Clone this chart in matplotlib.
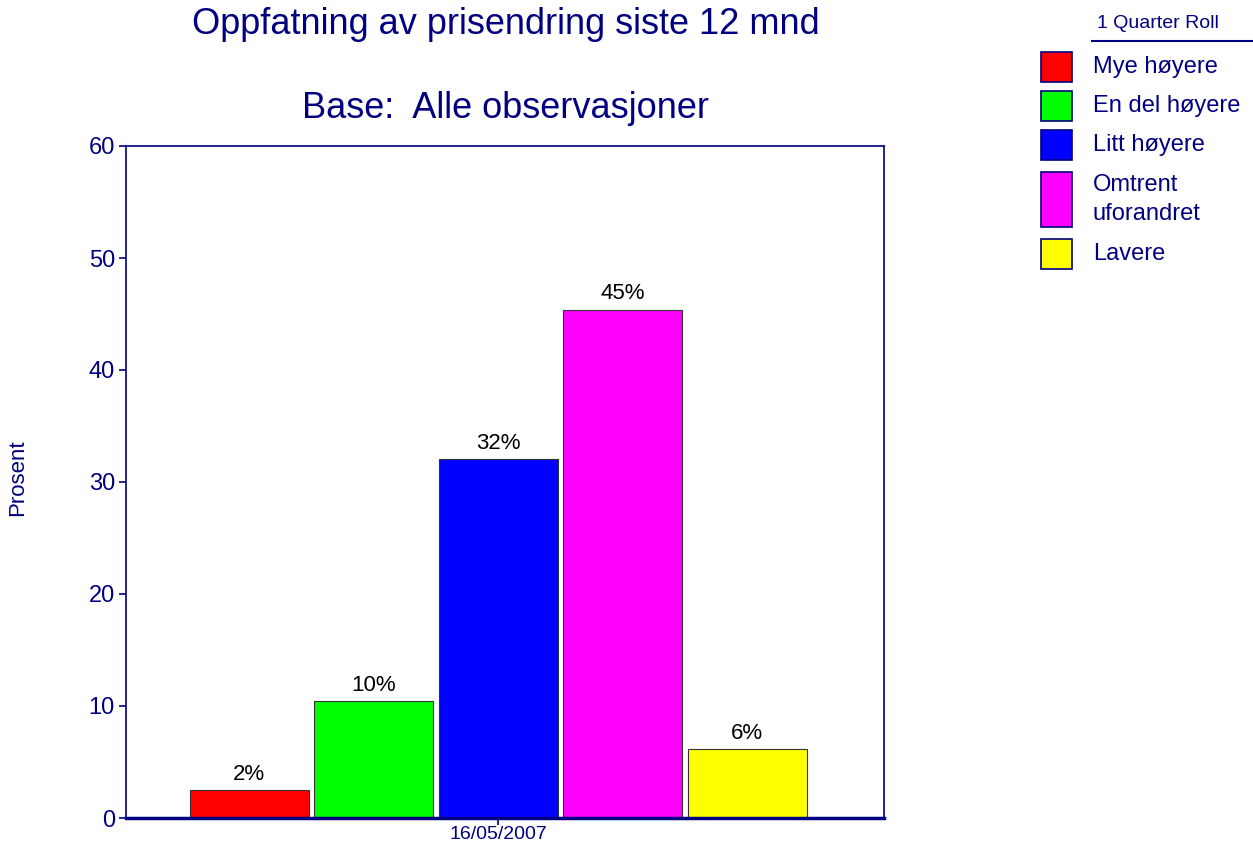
import matplotlib
matplotlib.use("Agg")
import matplotlib.pyplot as plt
from matplotlib.patches import Rectangle

plt.rcParams['font.family'] = ['Liberation Sans', 'DejaVu Sans']

categories = ['Mye høyere', 'En del høyere', 'Litt høyere', 'Omtrent\nuforandret', 'Lavere']
values = [2.5, 10.45, 32.05, 45.4, 6.15]
value_labels = ['2%', '10%', '32%', '45%', '6%']
colors = ['#ff0000', '#00ff00', '#0000ff', '#ff00ff', '#ffff00']
date_label = '16/05/2007'
navy = '#000080'

fig = plt.figure(figsize=(12.53, 8.46), dpi=100)
ax = fig.add_axes([126 / 1253, 1 - 818 / 846, (884 - 126) / 1253, (818 - 146) / 846])

xs = list(range(len(values)))
bars = ax.bar(xs, values, width=0.955, color=colors, edgecolor='#333333', linewidth=0.8)
for b, lab in zip(bars, value_labels):
    ax.text(b.get_x() + b.get_width() / 2, b.get_height() + 0.45, lab,
            ha='center', va='bottom', fontsize=16, color='black')

ax.set_xlim(-0.99, 5.1)
ax.set_ylim(0, 60)
ax.set_yticks(range(0, 61, 10))
ax.set_xticks([2])
ax.set_xticklabels([date_label])
ax.tick_params(axis='y', colors=navy, labelsize=17, length=5, width=1.2, labelcolor=navy, pad=3)
ax.tick_params(axis='x', colors=navy, labelsize=14, length=5, width=1.2, labelcolor=navy, pad=1)
for s in ['left', 'top', 'right']:
    ax.spines[s].set_color(navy)
    ax.spines[s].set_linewidth(1.2)
ax.spines['bottom'].set_color(navy)
ax.spines['bottom'].set_linewidth(2.5)

fig.text(18 / 1253, 1 - 478 / 846, 'Prosent', rotation=90, ha='center', va='center',
         fontsize=16, color=navy)

fig.text(506 / 1253, 1 - 25 / 846, 'Oppfatning av prisendring siste 12 mnd',
         ha='center', va='center', fontsize=26, color=navy)
fig.text(506 / 1253, 1 - 108 / 846, 'Base:  Alle observasjoner',
         ha='center', va='center', fontsize=26, color=navy)

# legend, drawn by hand
fig.text(1097 / 1253, 1 - 23 / 846, '1 Quarter Roll', ha='left', va='center',
         fontsize=14, color=navy)
fig.add_artist(plt.Line2D([1092 / 1253, 1], [1 - 41 / 846] * 2, color=navy, lw=1.5))
tops = [52, 91, 130, 172, 239]
for cat, col, top in zip(categories, colors, tops):
    h = 55 if '\n' in cat else 30
    fig.add_artist(Rectangle((1041 / 1253, 1 - (top + h) / 846), 31 / 1253, h / 846,
                             facecolor=col, edgecolor=navy, linewidth=1.2))
    fig.text(1093 / 1253, 1 - (top + h / 2) / 846, cat, ha='left', va='center',
             fontsize=17, color=navy, linespacing=1.4)

fig.savefig('out.png', dpi=100)
